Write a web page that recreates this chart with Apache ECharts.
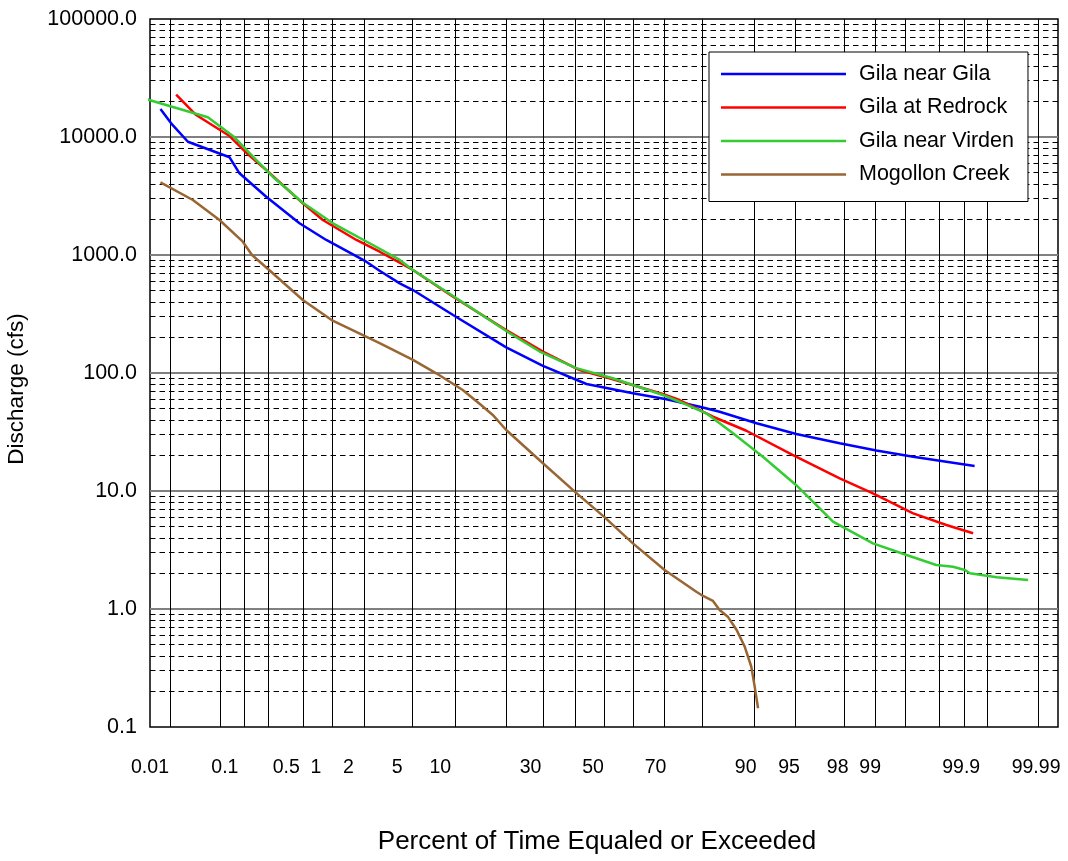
<!DOCTYPE html>
<html>
<head>
<meta charset="utf-8">
<script src="https://cdn.jsdelivr.net/npm/echarts@6/dist/echarts.min.js"></script>
<style>
  html, body { margin: 0; padding: 0; background: #fff; }
  #chart { width: 1068px; height: 861px; }
</style>
</head>
<body>
<div id="chart"></div>
<script>
// [percent of time equaled or exceeded, discharge cfs]
const gilaNearGila = [
  [0.0141, 17270], [0.0199, 13060], [0.0336, 9120], [0.114, 6730], [0.150, 4925],
  [0.304, 3120], [0.687, 1857], [1.257, 1341], [2.85, 878], [3.66, 736], [5.23, 575],
  [6.53, 505], [12.0, 310], [23.3, 165], [33.7, 115], [47.8, 80.7], [63.1, 67.3],
  [73.1, 59.9], [81.5, 51.8], [85.6, 47.0], [91.5, 37.5], [95.6, 30.4], [98.08, 25.4],
  [99.13, 22.0], [99.64, 19.5], [99.849, 17.7], [99.932, 16.3]
]
const gilaAtRedrock = [
  [0.0233, 22830], [0.0432, 15360], [0.114, 10190], [0.180, 7360], [0.304, 5250],
  [0.742, 2742], [1.165, 1980], [2.35, 1341], [3.66, 1066], [5.23, 861], [6.53, 746],
  [12.0, 443], [23.3, 231], [33.7, 152], [45.5, 106], [56.6, 88.4], [72.1, 66.4],
  [76.6, 59.0], [84.3, 42.6], [90.1, 32.4], [95.3, 20.2], [98.08, 12.8], [99.06, 9.56],
  [99.64, 6.47], [99.849, 5.15], [99.929, 4.38]
]
const gilaNearVirden = [
  [0.0070, 21800], [0.0189, 18300], [0.0612, 14700], [0.131, 9940], [0.215, 6810],
  [0.359, 4610], [0.742, 2775], [1.45, 1857], [3.23, 1216], [5.23, 908], [6.53, 746],
  [12.6, 430], [24.2, 217], [32.7, 152], [44.4, 110], [56.6, 90.2], [72.1, 65.1],
  [76.6, 57.1], [82.9, 45.5], [88.0, 30.8], [92.3, 19.5], [95.6, 11.2], [97.8, 5.50],
  [99.06, 3.60], [99.575, 2.87], [99.802, 2.36], [99.874, 2.28], [99.910, 2.14],
  [99.922, 2.01], [99.965, 1.86], [99.987, 1.76]
]
const mogollonCreek = [
  [0.0141, 4130], [0.0391, 2924], [0.0858, 1980], [0.164, 1297], [0.210, 1000],
  [0.359, 700], [0.742, 416], [1.41, 281], [3.66, 179], [6.53, 129], [9.41, 99.4],
  [13.7, 71.8], [17.1, 54.6], [20.0, 44.1], [23.3, 32.9], [33.7, 17.2], [43.9, 9.87],
  [53.9, 5.98], [63.1, 3.60], [72.6, 2.14], [80.7, 1.40], [82.2, 1.29], [84.3, 1.17],
  [85.6, 0.98], [87.1, 0.861], [88.6, 0.664], [89.85, 0.48], [90.8, 0.324],
  [91.26, 0.22], [91.7, 0.144]
]

const seriesNames = ['Gila near Gila', 'Gila at Redrock', 'Gila near Virden', 'Mogollon Creek']
const seriesColors = ['#0000ff', '#ff0000', '#33cc33', '#996633']

const xTickLabels = [0.01, 0.1, 0.5, 1, 2, 5, 10, 30, 50, 70, 90, 95, 98, 99, 99.9, 99.99]
// vertical grid lines of the original sheet, in standard-normal units
const xGridZ = [-3.553, -3.130, -2.934, -2.727, -2.433, -2.187, -1.921, -1.518, -1.162,
  -0.728, -0.421, -0.152, 0.089, 0.341, 0.603, 0.917, 1.348, 1.703, 2.106, 2.370,
  2.616, 2.912, 3.120, 3.315, 3.739]
const yDecades = [0.1, 1, 10, 100, 1000, 10000]
const yMinorSteps = [2, 3, 4, 5, 6, 7, 8, 9]

const FONT = '"Liberation Sans", Arial, sans-serif'

// inverse standard normal CDF (Acklam)
function normInv(p) {
  const a = [-39.69683028665376, 220.9460984245205, -275.9285104469687, 138.3577518672690, -30.66479806614716, 2.506628277459239]
  const b = [-54.47609879822406, 161.5858368580409, -155.6989798598866, 66.80131188771972, -13.28068155288572]
  const c = [-0.007784894002430293, -0.3223964580411365, -2.400758277161838, -2.549732539343734, 4.374664141464968, 2.938163982698783]
  const d = [0.007784695709041462, 0.3224671290700398, 2.445134137142996, 3.754408661907416]
  const plow = 0.02425
  if (p < plow) {
    const q = Math.sqrt(-2 * Math.log(p))
    return (((((c[0]*q+c[1])*q+c[2])*q+c[3])*q+c[4])*q+c[5]) / ((((d[0]*q+d[1])*q+d[2])*q+d[3])*q+1)
  }
  if (p > 1 - plow) {
    const q = Math.sqrt(-2 * Math.log(1 - p))
    return -(((((c[0]*q+c[1])*q+c[2])*q+c[3])*q+c[4])*q+c[5]) / ((((d[0]*q+d[1])*q+d[2])*q+d[3])*q+1)
  }
  const q = p - 0.5
  const r = q * q
  return (((((a[0]*r+a[1])*r+a[2])*r+a[3])*r+a[4])*r+a[5])*q / (((((b[0]*r+b[1])*r+b[2])*r+b[3])*r+b[4])*r+1)
}

const toProb = pts => pts.map(([p, q]) => [normInv(p / 100), q])
const xTickZ = xTickLabels.map(p => normInv(p / 100))

function buildOption() {
  const dataSets = [gilaNearGila, gilaAtRedrock, gilaNearVirden, mogollonCreek]

  const minorLines = []
  yDecades.forEach(dec => yMinorSteps.forEach(m => minorLines.push({ yAxis: dec * m })))

  const lineSeries = dataSets.map((pts, i) => ({
    name: seriesNames[i],
    type: 'line',
    data: toProb(pts),
    showSymbol: false,
    symbol: 'none',
    clip: false,
    z: 3,
    color: seriesColors[i],
    lineStyle: { color: seriesColors[i], width: 2.5 },
  }))

  return {
    animation: false,
    backgroundColor: '#fff',
    grid: {
      left: 150, right: 10, top: 19, bottom: 134,
      show: true, borderColor: '#000', borderWidth: 1.5, backgroundColor: '#fff',
    },
    legend: {
      orient: 'vertical',
      left: 709, top: 52,
      padding: [11, 14, 16, 12],
      data: seriesNames,
      icon: 'rect',
      itemWidth: 125, itemHeight: 2.5, itemGap: 11.5,
      backgroundColor: '#fff',
      borderColor: '#000', borderWidth: 1,
      textStyle: { fontFamily: FONT, fontSize: 21.5, color: '#000', padding: [0, 0, 0, 8] },
    },
    xAxis: {
      type: 'value',
      min: normInv(0.0001),
      max: 3.903,
      axisLine: { show: false },
      axisTick: { show: false },
      splitLine: { show: false },
      axisLabel: {
        customValues: xTickZ,
        margin: 31,
        fontFamily: FONT, fontSize: 19.5, color: '#000',
        formatter: v => {
          const i = xTickZ.findIndex(z => Math.abs(z - v) < 1e-4)
          return i >= 0 ? String(xTickLabels[i]) : ''
        },
      },
    },
    yAxis: {
      type: 'log',
      logBase: 10,
      min: 0.1, max: 100000,
      axisLine: { show: false },
      axisTick: { show: false },
      axisLabel: {
        margin: 13,
        fontFamily: FONT, fontSize: 21.5, color: '#000',
        formatter: v => Number(v).toFixed(1),
      },
      splitLine: {
        show: true, showMinLine: false, showMaxLine: false,
        lineStyle: { color: '#808080', width: 2 },
      },
    },
    graphic: [
      {
        type: 'text', x: 17, y: 389, rotation: Math.PI / 2,
        style: {
          text: 'Discharge (cfs)', fontFamily: FONT, fontSize: 22.5, fill: '#000',
          align: 'center', verticalAlign: 'middle', textAlign: 'center', textVerticalAlign: 'middle',
        },
      },
      {
        type: 'text', x: 597, y: 842,
        style: {
          text: 'Percent of Time Equaled or Exceeded', fontFamily: FONT, fontSize: 26, fill: '#000',
          align: 'center', verticalAlign: 'middle', textAlign: 'center', textVerticalAlign: 'middle',
        },
      },
    ],
    series: [
      {
        type: 'line', data: [], silent: true, z: 1,
        markLine: {
          silent: true, symbol: ['none', 'none'], label: { show: false }, z: 1,
          lineStyle: { color: '#000', width: 1, type: [5.5, 4] },
          data: minorLines,
        },
      },
      {
        type: 'line', data: [], silent: true, z: 1,
        markLine: {
          silent: true, symbol: ['none', 'none'], label: { show: false }, z: 1,
          lineStyle: { color: '#000', width: 1, type: 'solid' },
          data: xGridZ.map(z => ({ xAxis: z })),
        },
      },
      ...lineSeries,
    ],
  }
}

const chart = echarts.init(document.getElementById('chart'))
chart.setOption(buildOption())
</script>
</body>
</html>
